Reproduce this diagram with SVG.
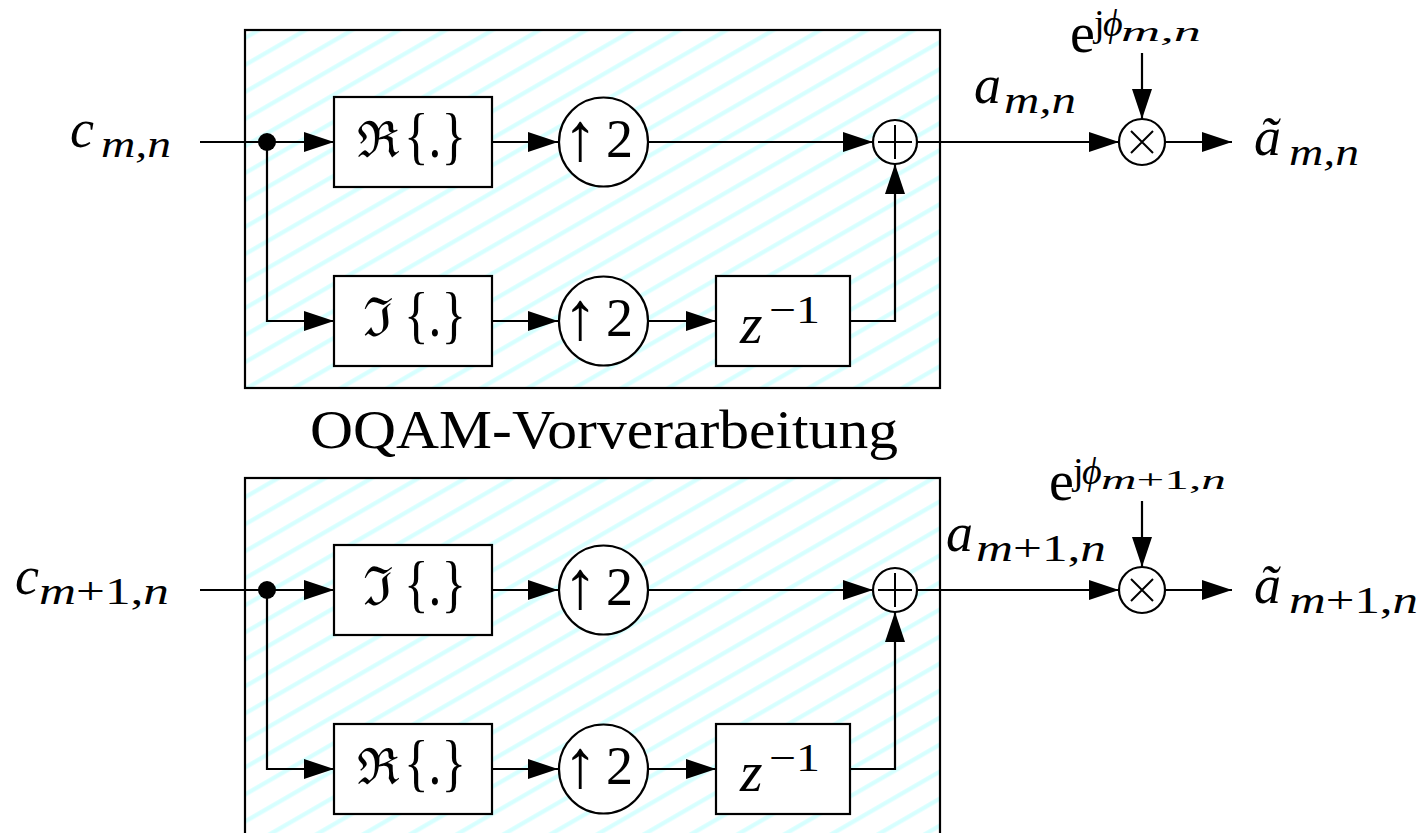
<svg xmlns="http://www.w3.org/2000/svg" width="1423" height="833" viewBox="0 0 1423 833">
<style>
.arr{fill:none;stroke:#000;stroke-width:2.2;marker-end:url(#ah)}
.nd{fill:#fff;stroke:#000;stroke-width:2.2}
.sym{stroke:#000;stroke-width:2;fill:none}
.blk{fill:url(#hatch);stroke:#000;stroke-width:2.2}
.tx{font-family:"Liberation Serif",serif;fill:#000}
.it{font-style:italic}
.up{font-style:normal}
.fr{font-family:"DejaVu Serif",serif;font-style:normal}
</style>
<defs>
<marker id="ah" markerUnits="userSpaceOnUse" viewBox="0 0 30 20" refX="30" refY="10" markerWidth="30" markerHeight="20" orient="auto">
<path d="M0,0 L30,10 L0,20 Z" fill="#000"/>
</marker>
<pattern id="hatch" patternUnits="userSpaceOnUse" width="40" height="23.4" patternTransform="rotate(-30)">
<rect width="40" height="23.4" fill="#fff"/>
<line x1="-1" y1="15" x2="41" y2="15" stroke="#d6ffff" stroke-width="4"/>
</pattern>
</defs>
<rect width="1423" height="833" fill="#fff"/>

<g id="block1"><rect class="blk" x="245" y="30" width="695" height="358"/></g>
<g id="block2"><rect class="blk" x="245" y="478" width="695" height="360"/></g>

<g id="connectors">
<path class="arr" d="M200,142 H334"/>
<path class="arr" d="M267,142 V321 H334"/>
<path class="arr" d="M492,142 H558"/>
<path class="arr" d="M648,142 H873"/>
<path class="arr" d="M492,321 H558"/>
<path class="arr" d="M648,321 H716"/>
<path class="arr" d="M850,321 H895 V164"/>
<path class="arr" d="M917,142 H1119"/>
<path class="arr" d="M1165,142 H1232"/>
<path class="arr" d="M1142,53 V119"/>
<path class="arr" d="M200,590 H334"/>
<path class="arr" d="M267,590 V769 H334"/>
<path class="arr" d="M492,590 H558"/>
<path class="arr" d="M648,590 H873"/>
<path class="arr" d="M492,769 H558"/>
<path class="arr" d="M648,769 H716"/>
<path class="arr" d="M850,769 H895 V612"/>
<path class="arr" d="M917,590 H1119"/>
<path class="arr" d="M1165,590 H1232"/>
<path class="arr" d="M1142,501 V567"/>
</g>

<g id="dot1"><circle cx="267" cy="142" r="9" fill="#000"/></g>
<g id="dot2"><circle cx="267" cy="590" r="9" fill="#000"/></g>

<g id="re1"><rect class="nd" x="334" y="97" width="158" height="90"/>
<text class="tx" y="157"><tspan class="fr" x="357" font-size="50">ℜ</tspan><tspan x="404" font-size="64" textLength="62" lengthAdjust="spacingAndGlyphs">{.}</tspan></text></g>
<g id="up1"><circle class="nd" cx="603.5" cy="142" r="44.5"/>
<text class="tx" y="157"><tspan x="563" y="160" font-size="68">↑</tspan><tspan x="606" y="157" font-size="54">2</tspan></text></g>
<g id="im1"><rect class="nd" x="334" y="276" width="158" height="90"/>
<text class="tx" y="336"><tspan class="fr" x="363" font-size="54">ℑ</tspan><tspan x="404" font-size="64" textLength="62" lengthAdjust="spacingAndGlyphs">{.}</tspan></text></g>
<g id="up1b"><circle class="nd" cx="603.5" cy="321" r="44.5"/>
<text class="tx" y="336"><tspan x="563" y="339" font-size="68">↑</tspan><tspan x="606" y="336" font-size="54">2</tspan></text></g>
<g id="z1"><rect class="nd" x="716" y="276" width="134" height="90"/>
<text class="tx" y="343"><tspan class="it" x="740" font-size="58">z</tspan><tspan class="up" x="769" y="323" font-size="40" textLength="51" lengthAdjust="spacingAndGlyphs">−1</tspan></text></g>
<g id="sum1"><circle class="nd" cx="895" cy="142" r="22"/>
<path class="sym" d="M878,142 H912 M895,125 V159"/></g>
<g id="mul1"><circle class="nd" cx="1142" cy="142" r="23"/>
<path class="sym" d="M1131,131 L1153,153 M1153,131 L1131,153"/></g>

<g id="im2"><rect class="nd" x="334" y="545" width="158" height="90"/>
<text class="tx" y="605"><tspan class="fr" x="363" font-size="54">ℑ</tspan><tspan x="404" font-size="64" textLength="62" lengthAdjust="spacingAndGlyphs">{.}</tspan></text></g>
<g id="up2"><circle class="nd" cx="603.5" cy="590" r="44.5"/>
<text class="tx" y="605"><tspan x="563" y="608" font-size="68">↑</tspan><tspan x="606" y="605" font-size="54">2</tspan></text></g>
<g id="re2"><rect class="nd" x="334" y="724" width="158" height="90"/>
<text class="tx" y="784"><tspan class="fr" x="357" font-size="50">ℜ</tspan><tspan x="404" font-size="64" textLength="62" lengthAdjust="spacingAndGlyphs">{.}</tspan></text></g>
<g id="up2b"><circle class="nd" cx="603.5" cy="769" r="44.5"/>
<text class="tx" y="784"><tspan x="563" y="787" font-size="68">↑</tspan><tspan x="606" y="784" font-size="54">2</tspan></text></g>
<g id="z2"><rect class="nd" x="716" y="724" width="134" height="90"/>
<text class="tx" y="791"><tspan class="it" x="740" font-size="58">z</tspan><tspan class="up" x="769" y="771" font-size="40" textLength="51" lengthAdjust="spacingAndGlyphs">−1</tspan></text></g>
<g id="sum2"><circle class="nd" cx="895" cy="590" r="22"/>
<path class="sym" d="M878,590 H912 M895,573 V607"/></g>
<g id="mul2"><circle class="nd" cx="1142" cy="590" r="23"/>
<path class="sym" d="M1131,579 L1153,601 M1153,579 L1131,601"/></g>

<g id="labels">
<text class="tx it" y="147" font-size="54"><tspan x="70">c</tspan><tspan x="101" y="157" font-size="38" textLength="70" lengthAdjust="spacingAndGlyphs">m,n</tspan></text>
<text class="tx it" y="594" font-size="54"><tspan x="15">c</tspan><tspan x="39" y="604" font-size="38" textLength="130" lengthAdjust="spacingAndGlyphs">m<tspan class="up">+1,</tspan>n</tspan></text>

<text class="tx it" y="103" font-size="54"><tspan x="974">a</tspan><tspan x="1004" y="113" font-size="38" textLength="72" lengthAdjust="spacingAndGlyphs">m,n</tspan></text>
<text class="tx it" y="551" font-size="54"><tspan x="946">a</tspan><tspan x="976" y="561" font-size="38" textLength="130" lengthAdjust="spacingAndGlyphs">m<tspan class="up">+1,</tspan>n</tspan></text>

<text class="tx up" y="52" font-size="56"><tspan x="1070">e</tspan><tspan x="1094" y="36" font-size="38">j</tspan><tspan class="it" x="1103" y="36" font-size="38">ϕ</tspan><tspan class="it" x="1121" y="41" font-size="28" textLength="80" lengthAdjust="spacingAndGlyphs">m,n</tspan></text>
<text class="tx up" y="500" font-size="56"><tspan x="1049">e</tspan><tspan x="1073" y="484" font-size="38">j</tspan><tspan class="it" x="1082" y="484" font-size="38">ϕ</tspan><tspan class="it" x="1101" y="489" font-size="28" textLength="125" lengthAdjust="spacingAndGlyphs">m<tspan class="up">+1,</tspan>n</tspan></text>

<text class="tx it" y="155" font-size="54"><tspan x="1254">ã</tspan><tspan x="1289" y="165" font-size="38" textLength="70" lengthAdjust="spacingAndGlyphs">m,n</tspan></text>
<text class="tx it" y="603" font-size="54"><tspan x="1254">ã</tspan><tspan x="1289" y="613" font-size="38" textLength="129" lengthAdjust="spacingAndGlyphs">m<tspan class="up">+1,</tspan>n</tspan></text>

<text class="tx up" x="310" y="448" font-size="55" textLength="588" lengthAdjust="spacingAndGlyphs">OQAM-Vorverarbeitung</text>
</g>
</svg>
